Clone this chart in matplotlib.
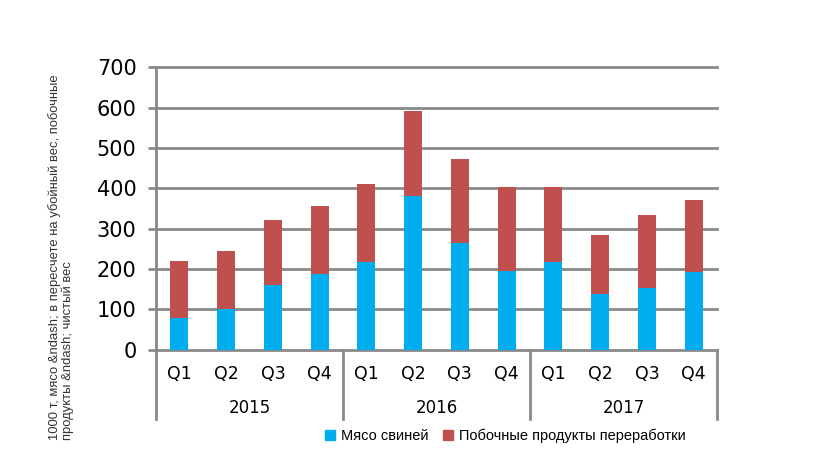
import numpy as np
import matplotlib
matplotlib.use("Agg")
import matplotlib.pyplot as plt
from matplotlib.patches import Patch

# data (1000 t)
quarters = ["Q1", "Q2", "Q3", "Q4"] * 3
years    = ["2015", "2016", "2017"]
meat     = [79, 101, 161, 188, 218, 381, 263, 194, 218, 137, 153, 191]
totals   = [220, 244, 322, 356, 410, 592, 473, 402, 402, 284, 334, 372]
byprod   = [t - m for t, m in zip(totals, meat)]

blue  = "#00aeef"
red   = "#c0504d"
grey  = "#8a8a8a"

fig = plt.figure(figsize=(8.2, 4.61), dpi=100)
ax = fig.add_axes([156/820, 1 - 349.5/461, 561/820, 282.2/461])

x = np.arange(len(meat))
ax.bar(x, meat, width=0.39, color=blue, zorder=3)
ax.bar(x, byprod, width=0.39, bottom=meat, color=red, zorder=3)

ax.set_xlim(-0.5, len(meat) - 0.5)
ax.set_ylim(0, 700)
yt = np.arange(0, 701, 100)
for v in yt:
    ax.axhline(v, color=grey, linewidth=2, zorder=1, clip_on=False)

for s in ["top", "right", "bottom"]:
    ax.spines[s].set_visible(False)
ax.spines["left"].set_color(grey)
ax.spines["left"].set_linewidth(2)

ax.set_yticks(yt)
ax.set_yticklabels([str(v) for v in yt], fontsize=15, family="DejaVu Sans")
ax.tick_params(axis="y", length=6, width=2, color=grey, pad=8)
ax.set_xticks([])

# category axis: quarters, years and separators
for i, q in enumerate(quarters):
    ax.text(i, -0.088, q, transform=ax.get_xaxis_transform(), ha="center",
            va="center", fontsize=12.5, family="DejaVu Sans")
for j, y in enumerate(years):
    ax.text(4 * j + 1.5, -0.208, y, transform=ax.get_xaxis_transform(),
            ha="center", va="center", fontsize=12, family="DejaVu Sans")
for xs in [-0.5, 3.5, 7.5, 11.5]:
    ax.plot([xs, xs], [0, -0.246], transform=ax.get_xaxis_transform(),
            color=grey, linewidth=2, clip_on=False)

fig.text(61/820, 21/461,
         "1000 т, мясо &ndash; в пересчете на убойный вес, побочные\nпродукты &ndash; чистый вес",
         rotation=90, ha="center", va="bottom", multialignment="left",
         fontsize=9.4, family="Liberation Sans", color="#333333",
         linespacing=1.1)

handles = [Patch(color=blue, label="Мясо свиней"),
           Patch(color=red, label="Побочные продукты переработки")]
fig.legend(handles=handles, loc="center", bbox_to_anchor=(505/820, 1 - 436/461),
           ncol=2, frameon=False, handlelength=0.7, handleheight=0.7,
           handletextpad=0.4, columnspacing=1.0,
           prop={"family": "Liberation Sans", "size": 10.5})

fig.savefig("out.png", dpi=100)
